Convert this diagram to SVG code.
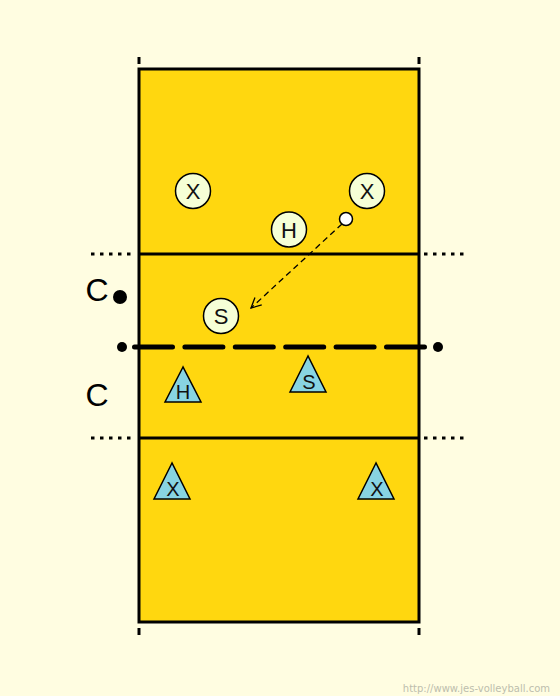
<svg xmlns="http://www.w3.org/2000/svg" width="560" height="696" viewBox="0 0 560 696">
<defs>
<style>
.lbl{font-family:"Liberation Sans",Arial,sans-serif;font-size:22px;fill:#111;text-anchor:middle}
.tl{font-family:"Liberation Sans",Arial,sans-serif;font-size:20px;fill:#111;text-anchor:middle}
.big{font-family:"Liberation Sans",Arial,sans-serif;font-size:32px;fill:#000;text-anchor:middle}
.pl{fill:#F6FFD6;stroke:#000;stroke-width:1.5}
.tri{fill:#88D4E2;stroke:#000;stroke-width:1.5}
.dot{stroke:#000;stroke-width:3;stroke-dasharray:3.5 5.5;fill:none}
.tick{stroke:#000;stroke-width:3}
</style>
<marker id="ah" viewBox="0 0 12 12" refX="11" refY="6" markerWidth="12" markerHeight="12" markerUnits="userSpaceOnUse" orient="auto">
<path d="M1,1 L11,6 L1,11" fill="none" stroke="#000" stroke-width="1.3"/>
</marker>
</defs>
<rect width="560" height="696" fill="#FFFDE1"/>
<g id="court">
<rect x="139" y="69" width="280" height="553" fill="#FFD70F" stroke="#000" stroke-width="3"/>
<line x1="139" y1="254" x2="419" y2="254" stroke="#000" stroke-width="3"/>
<line x1="139" y1="438" x2="419" y2="438" stroke="#000" stroke-width="3"/>
<line class="tick" x1="139" y1="57" x2="139" y2="64"/>
<line class="tick" x1="419" y1="57" x2="419" y2="64"/>
<line class="tick" x1="139" y1="628" x2="139" y2="635"/>
<line class="tick" x1="419" y1="628" x2="419" y2="635"/>
<line class="dot" x1="91" y1="254" x2="134" y2="254"/>
<line class="dot" x1="424" y1="254" x2="467" y2="254"/>
<line class="dot" x1="91" y1="438" x2="134" y2="438"/>
<line class="dot" x1="424" y1="438" x2="467" y2="438"/>
</g>
<g id="net">
<line x1="134.5" y1="347" x2="424.5" y2="347" stroke="#000" stroke-width="5" stroke-linecap="round" stroke-dasharray="38 12.4"/>
<circle cx="122" cy="347" r="5" fill="#000"/>
<circle cx="438" cy="347" r="5" fill="#000"/>
</g>
<g id="connectors">
<line x1="342" y1="224" x2="251" y2="308" stroke="#000" stroke-width="1.3" stroke-dasharray="6 4" marker-end="url(#ah)"/>
</g>
<g id="coach1"><text class="big" x="97" y="301">C</text><circle cx="120" cy="297" r="7" fill="#000"/></g>
<g id="coach2"><text class="big" x="97" y="406">C</text></g>
<g id="pX1"><circle class="pl" cx="193" cy="191" r="17.5"/><text class="lbl" x="193" y="199">X</text></g>
<g id="pX2"><circle class="pl" cx="367" cy="191" r="17.5"/><text class="lbl" x="367" y="199">X</text></g>
<g id="pH"><circle class="pl" cx="289" cy="229.5" r="17.5"/><text class="lbl" x="289" y="237.5">H</text></g>
<g id="pS"><circle class="pl" cx="221" cy="316" r="17.5"/><text class="lbl" x="221" y="324">S</text></g>
<g id="ball"><circle cx="346" cy="219" r="6.5" fill="#fff" stroke="#000" stroke-width="1.5"/></g>
<g id="tH"><polygon class="tri" points="183,367 165,402 201,402"/><text class="tl" x="183" y="399">H</text></g>
<g id="tS"><polygon class="tri" points="308,356 290,392 326,392"/><text class="tl" x="309" y="389">S</text></g>
<g id="tX1"><polygon class="tri" points="172,463 154,499 190,499"/><text class="tl" x="173" y="496">X</text></g>
<g id="tX2"><polygon class="tri" points="376,463 358,499 394,499"/><text class="tl" x="377" y="496">X</text></g>
<text x="550" y="692" font-family="DejaVu Sans,Verdana,sans-serif" font-size="10" fill="#BDBDAD" text-anchor="end">http://www.jes-volleyball.com</text>
</svg>
